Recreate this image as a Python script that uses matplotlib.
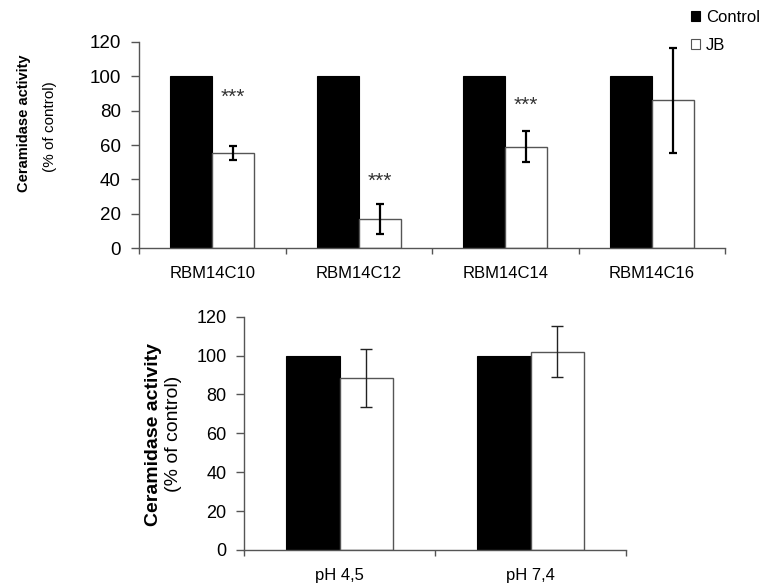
import matplotlib
matplotlib.use("Agg")
import matplotlib.pyplot as plt
from matplotlib.patches import Patch
import numpy as np

plt.rcParams['font.family'] = ['Liberation Sans', 'DejaVu Sans']

# ---- data ----
top_categories = ["RBM14C10", "RBM14C12", "RBM14C14", "RBM14C16"]
top_control = [100, 100, 100, 100]
top_jb = [55.5, 17, 59, 86]
top_jb_err = [4, 8.7, 9, 30.5]
top_sig = ["***", "***", "***", ""]
top_sig_y = [87.5, 39, 83, 0]

bot_categories = ["pH 4,5", "pH 7,4"]
bot_control = [100, 100]
bot_jb = [88.5, 102]
bot_jb_err = [15, 13]

yticks = [0, 20, 40, 60, 80, 100, 120]
legend_labels = ["Control", "JB"]

W, H = 769, 586
fig = plt.figure(figsize=(W / 100, H / 100), dpi=100)

spine_col = "#555555"
edge_col = "#555555"


def style_axis(ax, n, ytick_size, xtick_size, xpad, ypad):
    ax.set_xlim(0, n)
    ax.set_ylim(0, 120)
    ax.set_yticks(yticks)
    ax.set_yticklabels([str(v) for v in yticks], fontsize=ytick_size)
    ax.set_xticks(np.arange(n + 1))
    ax.set_xticklabels([])
    for s in ["top", "right"]:
        ax.spines[s].set_visible(False)
    for s in ["left", "bottom"]:
        ax.spines[s].set_color(spine_col)
        ax.spines[s].set_linewidth(1.0)
    ax.tick_params(axis="y", direction="out", length=6, width=1, color=spine_col, pad=ypad)
    ax.tick_params(axis="x", which="major", direction="out", length=4.5, width=1, color=spine_col)
    ax.set_xticks(np.arange(n) + 0.5, minor=True)
    ax.tick_params(axis="x", which="minor", length=0, pad=xpad, labelsize=xtick_size)


# ---- top panel ----
ax1 = fig.add_axes([139 / W, 1 - 248 / H, 586 / W, 206 / H])
n1 = len(top_categories)
x1 = np.arange(n1) + 0.5
w1 = 0.287
ax1.bar(x1 - w1 / 2, top_control, width=w1, color="black", edgecolor="black", linewidth=0.8, zorder=2)
ax1.bar(x1 + w1 / 2, top_jb, width=w1, color="white", edgecolor=edge_col, linewidth=1.0, zorder=2)
ax1.errorbar(x1 + w1 / 2, top_jb, yerr=top_jb_err, fmt="none", ecolor="black",
             elinewidth=1.6, capsize=2.8, capthick=1.6, zorder=3)
for xi, s, sy in zip(x1 + w1 / 2, top_sig, top_sig_y):
    if s:
        ax1.text(xi, sy, s, ha="center", va="center", fontsize=15, color="#333333")
style_axis(ax1, n1, 13.5, 12, 13, 7)
ax1.set_xticklabels(top_categories, minor=True)

fig.text(24 / W, 1 - 123.5 / H, "Ceramidase activity", rotation=90, ha="center", va="center",
         fontsize=10.5, fontweight="bold")
fig.text(50 / W, 1 - 126.5 / H, "(% of control)", rotation=90, ha="center", va="center",
         fontsize=11)

handles = [Patch(facecolor="black", edgecolor="black", linewidth=0.8),
           Patch(facecolor="white", edgecolor=edge_col, linewidth=0.8)]
fig.legend(handles, legend_labels, loc="upper left", bbox_to_anchor=(691 / W, 1 - 10 / H),
           frameon=False, fontsize=12, handlelength=0.55, handleheight=0.55,
           handletextpad=0.35, labelspacing=0.75, borderpad=0, borderaxespad=0)

# ---- bottom panel ----
ax2 = fig.add_axes([244 / W, 1 - 550 / H, 382 / W, 233.3 / H])
n2 = len(bot_categories)
x2 = np.arange(n2) + 0.5
w2 = 0.28
ax2.bar(x2 - w2 / 2, bot_control, width=w2, color="black", edgecolor="black", linewidth=0.8, zorder=2)
ax2.bar(x2 + w2 / 2, bot_jb, width=w2, color="white", edgecolor=edge_col, linewidth=1.0, zorder=2)
ax2.errorbar(x2 + w2 / 2, bot_jb, yerr=bot_jb_err, fmt="none", ecolor="#222222",
             elinewidth=1.0, capsize=4.3, capthick=1.0, zorder=3)
style_axis(ax2, n2, 13, 12, 13, 6.5)
ax2.set_xticklabels(bot_categories, minor=True)

fig.text(153 / W, 1 - 434 / H, "Ceramidase activity", rotation=90, ha="center", va="center",
         fontsize=14, fontweight="bold")
fig.text(173 / W, 1 - 434 / H, "(% of control)", rotation=90, ha="center", va="center",
         fontsize=14)

fig.savefig("out.png", dpi=100)
